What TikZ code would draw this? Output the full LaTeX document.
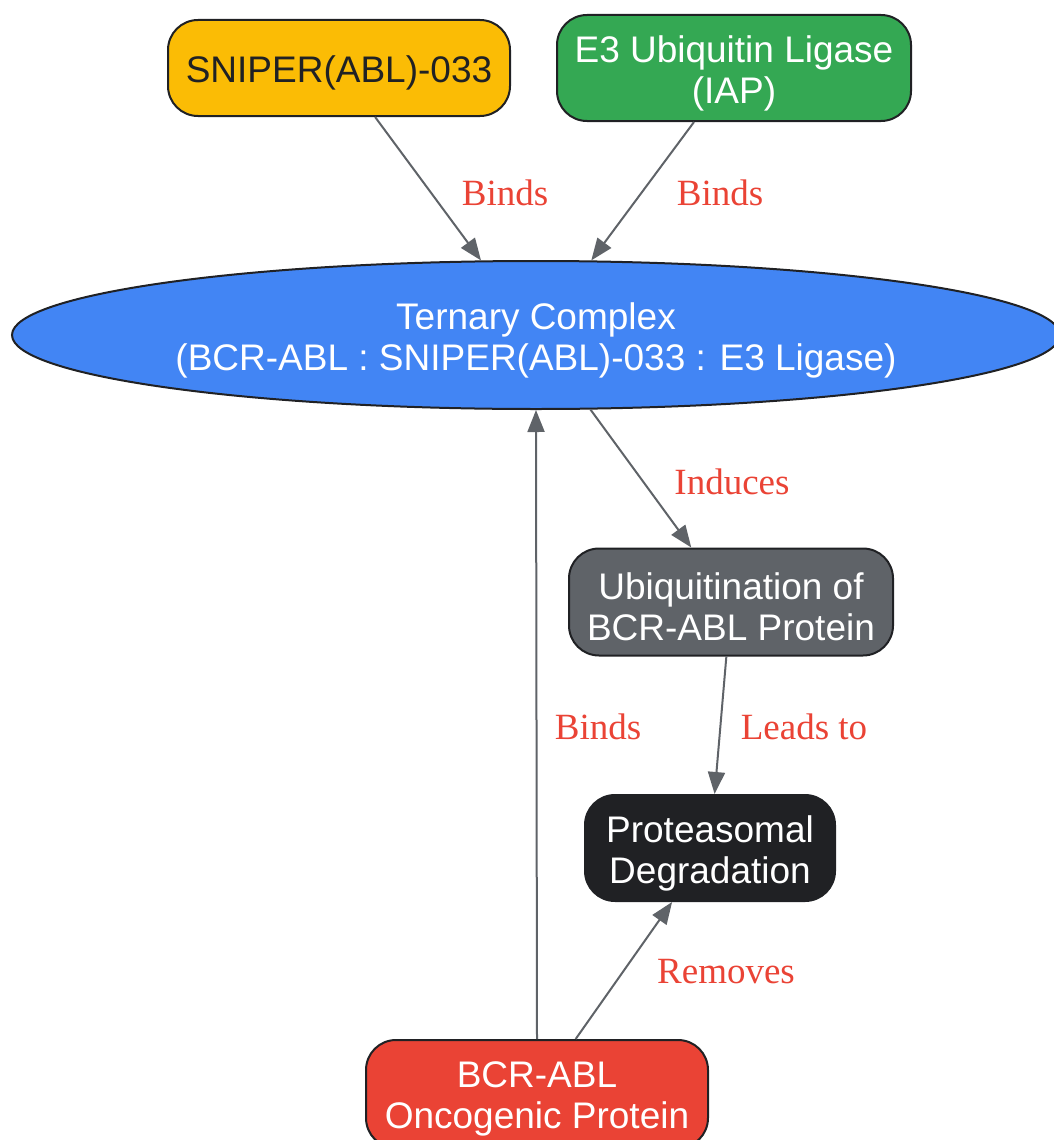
\documentclass[tikz,border=0pt]{standalone}
\usepackage{fontspec}
\setmainfont{Liberation Serif}
\setsansfont{Liberation Sans}
\usepackage{tikz}
\usetikzlibrary{arrows.meta, positioning, shapes.geometric}
\usepackage{xcolor}

\definecolor{gyellow}{HTML}{FBBC05}
\definecolor{ggreen}{HTML}{34A853}
\definecolor{gblue}{HTML}{4285F4}
\definecolor{ggray}{HTML}{5F6368}
\definecolor{gdark}{HTML}{202124}
\definecolor{gred}{HTML}{EA4335}

\tikzset{
  box/.style={draw=gdark, line width=2pt, rounded corners=30pt, inner sep=0pt},
  boxtext/.style={align=center, inner sep=0pt, yshift=-5pt,
    font=\sffamily\fontsize{37}{41}\selectfont, text=white},
  flow/.style={draw=ggray, line width=2pt, -{Triangle[length=22pt,width=17pt]}},
  edgelbl/.style={text=gred, font=\rmfamily\fontsize{37}{41}\selectfont}
}

\begin{document}
\begin{tikzpicture}[x=1pt, y=-1pt]
            \useasboundingbox (0,0) rectangle (1054,1140);

            \node[box, fill=gyellow, minimum width=342pt, minimum height=96pt,
              label={[boxtext, text=gdark]center:SNIPER(ABL)-033}] (sniper) at (339,68) {};
            \node[box, fill=ggreen, minimum width=354pt, minimum height=106pt,
              label={[boxtext]center:E3 Ubiquitin Ligase\\(IAP)}] (ligase) at (734,68) {};
            \node[box, ellipse, rounded corners=0pt, fill=gblue, minimum width=1048pt, minimum height=148pt,
              label={[boxtext]center:Ternary Complex\\(BCR-ABL : SNIPER(ABL)-033 : E3 Ligase)}] (ternary) at (536,335) {};
            \node[box, fill=ggray, minimum width=324pt, minimum height=107pt,
              label={[boxtext]center:Ubiquitination of\\BCR-ABL Protein}] (ubiq) at (731,602) {};
            \node[box, fill=gdark, minimum width=250pt, minimum height=106pt,
              label={[boxtext]center:Proteasomal\\Degradation}] (proteasome) at (710,848) {};
            \node[box, fill=gred, minimum width=342pt, minimum height=108pt,
              label={[boxtext]center:BCR-ABL\\Oncogenic Protein}] (bcrabl) at (537,1094) {};

            \draw[flow] (sniper) -- (ternary);
            \draw[flow] (ligase) -- (ternary);
            \draw[flow] (ternary) -- (ubiq);
            \draw[flow] (ubiq) -- (proteasome);
            \draw[flow] (bcrabl.north) -- (ternary.south);
            \draw[flow] (bcrabl) -- (proteasome);

            \node[edgelbl] (lblsniper) at (505,193) {Binds};
            \node[edgelbl] (lblligase) at (720,193) {Binds};
            \node[edgelbl] (lblinduces) at (732,482) {Induces};
            \node[edgelbl] (lblleads) at (804,727) {Leads to};
            \node[edgelbl] (lblbinds) at (598,727) {Binds};
            \node[edgelbl] (lblremoves) at (726,972) {Removes};
        \end{tikzpicture}
\end{document}
